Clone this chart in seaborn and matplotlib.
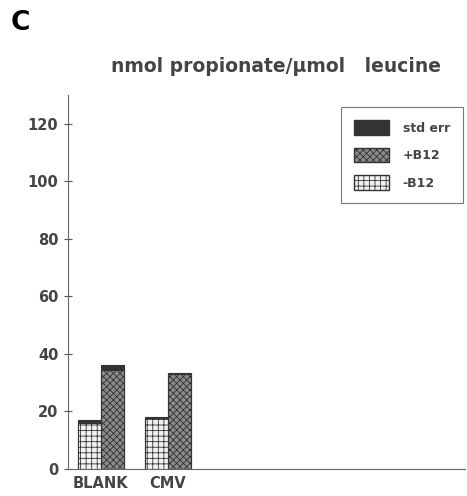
import matplotlib
matplotlib.use("Agg")
import matplotlib.pyplot as plt
import seaborn as sns
import pandas as pd
from matplotlib.patches import Patch

categories = ["BLANK", "CMV"]
conditions = ["-B12", "+B12"]
minus_b12 = [16.0, 17.7]
plus_b12 = [34.5, 32.9]
err_minus = [1.1, 0.3]
err_plus = [1.7, 0.5]
yticks = [0, 20, 40, 60, 80, 100, 120]

sns.set_theme(style="white")
plt.rcParams['font.family'] = ['DejaVu Sans']
plt.rcParams['hatch.color'] = '#444444'
plt.rcParams['hatch.linewidth'] = 0.6

rows = []
for i, c in enumerate(categories):
    rows.append(dict(cat=c, cond="-B12", val=minus_b12[i], tot=minus_b12[i] + err_minus[i]))
    rows.append(dict(cat=c, cond="+B12", val=plus_b12[i], tot=plus_b12[i] + err_plus[i]))
df = pd.DataFrame(rows)

fig = plt.figure(figsize=(4.67, 4.96), dpi=100)
ax = fig.add_axes([0.1456, 0.0544, 0.850, 0.754])

dark = "#333333"
light_face = "#f2f2f2"
mid_face = "#8a8a8a"
# std err layer (full height) first
sns.barplot(data=df, x="cat", y="tot", hue="cond", hue_order=conditions,
            order=categories, palette=[dark, dark], width=0.69,
            saturation=1, ax=ax, legend=False, errorbar=None,
            edgecolor=dark, linewidth=0.8)
n_first = len(ax.patches)
sns.barplot(data=df, x="cat", y="val", hue="cond", hue_order=conditions,
            order=categories, palette=[light_face, mid_face], width=0.69,
            saturation=1, ax=ax, legend=False, errorbar=None,
            edgecolor=dark, linewidth=0.8)
for p in ax.patches[n_first:]:
    fc = p.get_facecolor()
    if fc[0] > 0.9:
        p.set_hatch("+++")
    else:
        p.set_hatch("xxxxx")

ax.set_xlim(-0.49, 5.43)
ax.set_ylim(0, 130)
ax.set_yticks(yticks)
ax.set_yticklabels([str(t) for t in yticks], fontsize=10.5, fontweight="bold", color="#444444")
ax.set_xticks(range(len(categories)))
ax.set_xticklabels(categories, fontsize=10.5, fontweight="bold", color="#444444")
ax.tick_params(axis="y", direction="inout", length=6, width=0.8, color="#555555", pad=4, left=True)
ax.tick_params(axis="x", length=0, pad=5)
ax.set_xlabel("")
ax.set_ylabel("")
for s in ["top", "right"]:
    ax.spines[s].set_visible(False)
for s in ["left", "bottom"]:
    ax.spines[s].set_color("#666666")
    ax.spines[s].set_linewidth(0.8)

handles = [Patch(facecolor=dark, edgecolor=dark, label="std err"),
           Patch(facecolor=mid_face, edgecolor=dark, hatch="xxxxx", label="+B12"),
           Patch(facecolor=light_face, edgecolor=dark, hatch="+++", label="-B12")]
leg = ax.legend(handles=handles, loc="upper right", bbox_to_anchor=(0.995, 0.968),
                borderaxespad=0.0,
                frameon=True, fancybox=False, edgecolor="#555555",
                prop={"size": 9, "weight": "bold"}, labelcolor="#444444",
                handlelength=2.8, handleheight=1.4, labelspacing=1.05,
                borderpad=1.05, handletextpad=1.1)
leg.get_frame().set_linewidth(0.8)

fig.text(0.591, 0.865, "nmol propionate/\u00b5mol   leucine", ha="center", va="center",
         fontsize=13.5, fontweight="bold", color="#444444")
fig.text(0.022, 0.953, "C", ha="left", va="center", fontsize=19, fontweight="bold", color="black")

fig.savefig("out.png", dpi=100)
